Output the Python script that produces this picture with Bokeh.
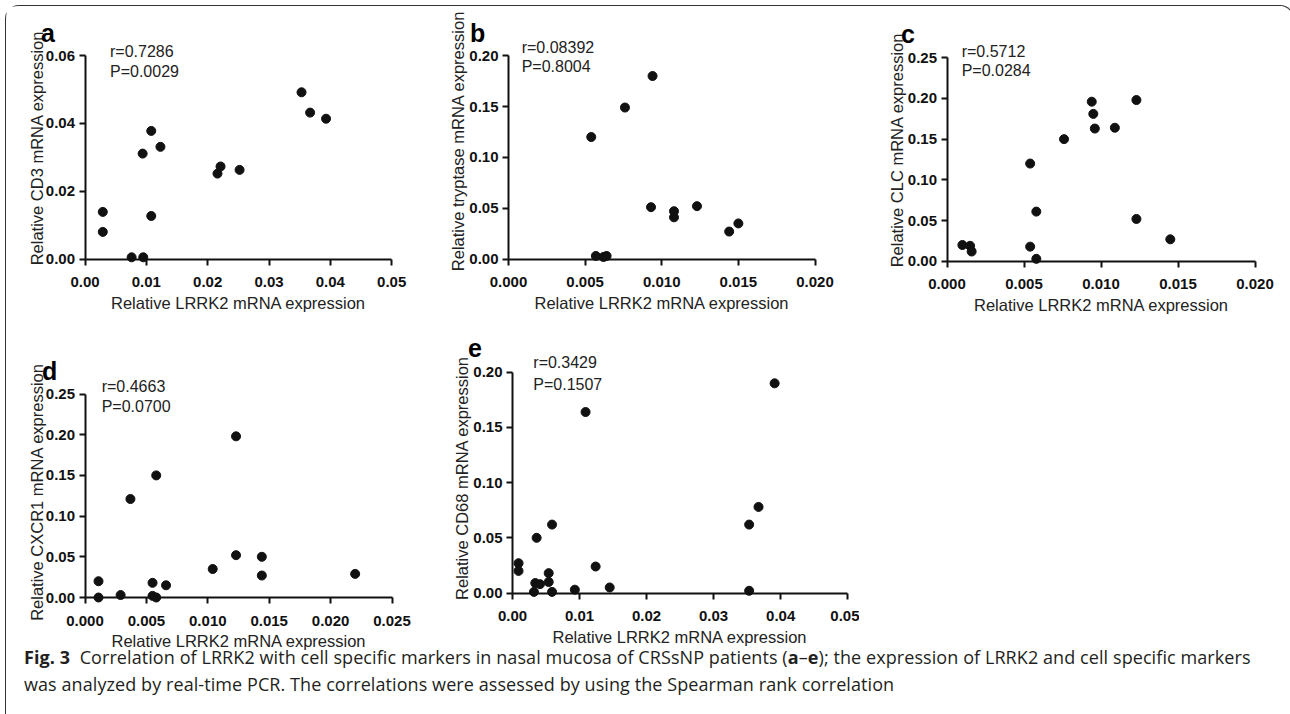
import math
from bokeh.plotting import figure
from bokeh.models import Range1d, Label, Div, LinearAxis, FixedTicker
from bokeh.layouts import column, row
from bokeh.embed import file_html
from bokeh.resources import INLINE

# ---------------- data ----------------
a_x = [0.0353, 0.0367, 0.0393, 0.0108, 0.0094, 0.0123, 0.0221, 0.0216, 0.0252, 0.0029, 0.0029, 0.0108, 0.0076, 0.0095]
a_y = [0.0492, 0.0432, 0.0414, 0.0378, 0.0311, 0.0331, 0.0273, 0.0252, 0.0263, 0.0139, 0.0080, 0.0127, 0.0005, 0.0005]

b_x = [0.0094, 0.0076, 0.0054, 0.0093, 0.0108, 0.0108, 0.0123, 0.0144, 0.0150, 0.0057, 0.0062, 0.0064]
b_y = [0.180, 0.149, 0.120, 0.051, 0.047, 0.041, 0.052, 0.027, 0.035, 0.003, 0.002, 0.003]

c_x = [0.0094, 0.0095, 0.0096, 0.0109, 0.0123, 0.0076, 0.0054, 0.0058, 0.0123, 0.0145, 0.0010, 0.0015, 0.0016, 0.0054, 0.0058]
c_y = [0.196, 0.181, 0.163, 0.164, 0.198, 0.150, 0.120, 0.061, 0.052, 0.027, 0.020, 0.019, 0.012, 0.018, 0.003]

d_x = [0.0123, 0.0058, 0.0037, 0.0011, 0.0011, 0.0029, 0.0055, 0.0055, 0.0058, 0.0066, 0.0104, 0.0123, 0.0144, 0.0144, 0.0220]
d_y = [0.198, 0.150, 0.121, 0.020, 0.000, 0.003, 0.018, 0.002, 0.000, 0.015, 0.035, 0.052, 0.050, 0.027, 0.029]

e_x = [0.0109, 0.0391, 0.0367, 0.0353, 0.0353, 0.0059, 0.0036, 0.0009, 0.0009, 0.0054, 0.0054, 0.0124, 0.0034, 0.0041, 0.0032, 0.0059, 0.0093, 0.0145]
e_y = [0.164, 0.190, 0.078, 0.062, 0.002, 0.062, 0.050, 0.027, 0.020, 0.018, 0.010, 0.024, 0.009, 0.008, 0.001, 0.001, 0.003, 0.005]

x_ticks_05 = [0.0, 0.01, 0.02, 0.03, 0.04, 0.05]
x_labels_05 = ["0.00", "0.01", "0.02", "0.03", "0.04", "0.05"]
x_ticks_020 = [0.0, 0.005, 0.01, 0.015, 0.02]
x_labels_020 = ["0.000", "0.005", "0.010", "0.015", "0.020"]
x_ticks_025 = [0.0, 0.005, 0.01, 0.015, 0.02, 0.025]
x_labels_025 = ["0.000", "0.005", "0.010", "0.015", "0.020", "0.025"]
y_ticks_06 = [0.0, 0.02, 0.04, 0.06]
y_labels_06 = ["0.00", "0.02", "0.04", "0.06"]
y_ticks_20 = [0.0, 0.05, 0.10, 0.15, 0.20]
y_labels_20 = ["0.00", "0.05", "0.10", "0.15", "0.20"]
y_ticks_25 = [0.0, 0.05, 0.10, 0.15, 0.20, 0.25]
y_labels_25 = ["0.00", "0.05", "0.10", "0.15", "0.20", "0.25"]

x_title = "Relative LRRK2 mRNA expression"
y_titles = ["Relative CD3 mRNA expression", "Relative tryptase mRNA expression",
            "Relative CLC mRNA expression", "Relative CXCR1 mRNA expression",
            "Relative CD68 mRNA expression"]
letters = ["a", "b", "c", "d", "e"]
r_texts = ["r=0.7286", "r=0.08392", "r=0.5712", "r=0.4663", "r=0.3429"]
p_texts = ["P=0.0029", "P=0.8004", "P=0.0284", "P=0.0700", "P=0.1507"]

FONT = "Liberation Sans"
INK = "#111111"
OX, OY = 6.5, 6.5          # page position of the layout content
W1, W2, W3 = 428, 425, 424
H1, H2 = 316, 333
LAB_FS = 16.5


def panel(xs, ys, geo, xt, xl, yt, yl, ytitle, ytitle_pos, letter, rtxt, ptxt,
          let_pos, r_pos, p_pos):
    FL, FT, W, H, x0, x1, xmax, y0, y1, ymax = geo
    sx = (x1 - x0) / xmax
    sy = (y0 - y1) / ymax
    xr = Range1d((FL - x0) / sx, (FL + W - x0) / sx)
    yr = Range1d((y0 - (FT + H)) / sy, (y0 - FT) / sy)
    p = figure(width=W, height=H, x_range=xr, y_range=yr, output_backend="svg",
               toolbar_location=None, x_axis_type=None, y_axis_type=None,
               min_border=0, min_border_left=0, min_border_right=0,
               min_border_top=0, min_border_bottom=0)
    p.outline_line_color = None
    p.background_fill_color = "white"
    p.border_fill_color = "white"

    def style(ax):
        ax.axis_line_width = 2
        ax.axis_line_color = INK
        ax.major_tick_line_width = 2
        ax.major_tick_line_color = INK
        ax.major_tick_out = 6
        ax.major_tick_in = 0
        ax.minor_tick_out = 0
        ax.minor_tick_in = 0
        ax.major_label_text_font = FONT
        ax.major_label_text_font_style = "bold"
        ax.major_label_text_font_size = "15px"
        ax.major_label_text_color = INK
        ax.axis_label_text_font = FONT
        ax.axis_label_text_font_style = "normal"
        ax.axis_label_text_font_size = f"{LAB_FS}px"
        ax.axis_label_text_color = "#222222"

    xa = LinearAxis(fixed_location=0, bounds=(0, xmax), ticker=FixedTicker(ticks=xt),
                    major_label_overrides={t: s for t, s in zip(xt, xl)},
                    axis_label=x_title)
    style(xa)
    xa.major_label_standoff = 12
    xa.axis_label_standoff = 3
    p.add_layout(xa, "below")
    ya = LinearAxis(fixed_location=0, bounds=(0, ymax), ticker=FixedTicker(ticks=yt),
                    major_label_overrides={t: s for t, s in zip(yt, yl)})
    style(ya)
    ya.major_label_standoff = 4
    p.add_layout(ya, "left")

    p.scatter(xs, ys, size=9, color=INK, line_color=INK)

    def to_data(px, py):
        return (px - x0) / sx, (y0 - py) / sy

    # y-axis title (rotated), positioned by its baseline x and centre y
    tx, ty = to_data(ytitle_pos[0] - 0.35 * LAB_FS, ytitle_pos[1])
    p.add_layout(Label(x=tx, y=ty, text=ytitle, angle=math.pi / 2, text_font=FONT,
                       text_font_size=f"{LAB_FS}px", text_color="#222222",
                       text_baseline="alphabetic", text_align="center"))

    lx, ly = to_data(let_pos[0], let_pos[1] - 0.35 * 25)
    p.add_layout(Label(x=lx, y=ly, text=letter, text_font=FONT, text_font_style="bold",
                       text_font_size="25px", text_color="#000000",
                       text_baseline="alphabetic", text_align="left"))
    for txt, pos in ((rtxt, r_pos), (ptxt, p_pos)):
        tx, ty = to_data(pos[0], pos[1] - 0.35 * 16)
        p.add_layout(Label(x=tx, y=ty, text=txt, text_font=FONT, text_font_size="16px",
                           text_color="#222222", text_baseline="alphabetic",
                           text_align="left"))
    return p


R2 = OY + H1
pa = panel(a_x, a_y, (OX, OY, W1, H1, 85, 391.7, 0.05, 259, 55.7, 0.06),
           x_ticks_05, x_labels_05, y_ticks_06, y_labels_06, y_titles[0], (42.5, 148),
           letters[0], r_texts[0], p_texts[0], (41, 42), (110, 56.7), (110, 76.7))
pb = panel(b_x, b_y, (OX + W1, OY, W2, H1, 508.5, 815, 0.02, 259, 55.7, 0.20),
           x_ticks_020, x_labels_020, y_ticks_20, y_labels_20, y_titles[1], (464, 141),
           letters[1], r_texts[1], p_texts[1], (470, 41.7), (521.7, 52.7), (521.7, 71.7))
pc = panel(c_x, c_y, (OX + W1 + W2, OY, W3, H1, 947, 1255, 0.02, 261.3, 57.7, 0.25),
           x_ticks_020, x_labels_020, y_ticks_25, y_labels_25, y_titles[2], (903, 150),
           letters[2], r_texts[2], p_texts[2], (901, 43), (961.7, 56.7), (961.7, 76))
pd_ = panel(d_x, d_y, (OX, R2, W1, H2, 85, 392, 0.025, 597.5, 394, 0.25),
            x_ticks_025, x_labels_025, y_ticks_25, y_labels_25, y_titles[3], (42.5, 492),
            letters[3], r_texts[3], p_texts[3], (42, 380), (101.7, 391.7), (101.7, 411.7))
pe = panel(e_x, e_y, (OX + W1, R2, W2, H2, 512.5, 847.7, 0.05, 593, 372.3, 0.20),
           x_ticks_05, x_labels_05, y_ticks_20, y_labels_20, y_titles[4], (468, 478),
           letters[4], r_texts[4], p_texts[4], (468, 357), (533.3, 368.3), (533.3, 390))

caption = Div(
    text=("<b>Fig. 3</b>&nbsp; Correlation of LRRK2 with cell specific markers in nasal mucosa "
          "of CRSsNP patients (<b>a</b>–<b>e</b>); the expression of LRRK2 and cell specific "
          "markers<br>was analyzed by real-time PCR. The correlations were assessed by using "
          "the Spearman rank correlation"),
    width=W1 + W2 + W3, height=52,
    styles={"font-family": "Open Sans", "font-size": "18px", "line-height": "27px",
            "color": "#231f20", "padding-left": "13px", "white-space": "nowrap",
            "letter-spacing": "0.08px", "transform": "translateY(-16px)"})

layout = column(row(pa, pb, pc), row(pd_, pe), caption,
                styles={"border-left": "1.5px solid #333", "border-top": "1.5px solid #333",
                        "border-right": "1.5px solid #333",
                        "border-radius": "14px 14px 0 0",
                        "margin-left": "5px", "margin-top": "5px"})

open("out.html", "w").write(file_html(layout, INLINE))
